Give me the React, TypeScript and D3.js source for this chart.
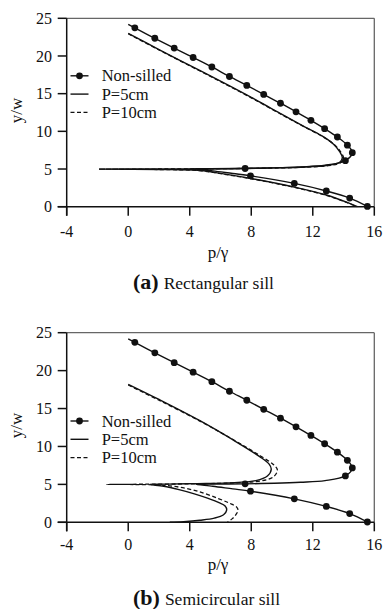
import React from "react";
import * as d3 from "d3";

type Pt = [number, number];

// Axis ticks and legend entries
const xTicks = [-4, 0, 4, 8, 12, 16];
const yTicks = [0, 5, 10, 15, 20, 25];
const legendLabels = ["Non-silled", "P=5cm", "P=10cm"];

// Non-silled pressure profile: measured points (p/γ, y/w)
const nonSilledMarkers: Pt[] = [
  [0.43, 23.73], [1.73, 22.35], [2.99, 21.05], [4.22, 19.8], [5.44, 18.54],
  [6.58, 17.28], [7.71, 16.09], [8.81, 14.9], [9.9, 13.73], [10.91, 12.59],
  [11.88, 11.46], [12.77, 10.36], [13.6, 9.25], [14.25, 8.17], [14.57, 7.17],
  [14.12, 6.11], [7.6, 5.07], [7.95, 4.1], [10.8, 3.09], [12.88, 2.09],
  [14.4, 1.15], [15.55, 0.04],
];

// Non-silled profile line, traced from the top of the nappe round the jet core
const nonSilledCurve: Pt[] = [
  [0, 24.2], [0.43, 23.73], [1.73, 22.35], [2.99, 21.05], [4.22, 19.8],
  [5.44, 18.54], [6.58, 17.28], [7.71, 16.09], [8.81, 14.9], [9.9, 13.73],
  [10.91, 12.59], [11.88, 11.46], [12.77, 10.36], [13.6, 9.25], [14.25, 8.17],
  [14.57, 7.17], [14.12, 6.11], [12.8, 5.5], [11.2, 5.28], [9.5, 5.15],
  [7.6, 5.07], [6.0, 5.03], [4.4, 5.0], [5.5, 4.75], [6.8, 4.4], [7.95, 4.1],
  [10.8, 3.09], [12.88, 2.09], [14.4, 1.15], [15.55, 0.04],
];

// Rectangular sill, P = 5 cm
const rectP5: Pt[] = [
  [0, 23.0], [2, 20.85], [4, 18.75], [6, 16.65], [8, 14.5], [10, 12.25],
  [11.3, 10.8], [12.6, 9.4], [13.35, 8.3], [13.75, 7.3], [13.92, 6.5],
  [13.75, 5.9], [13.0, 5.5], [11.2, 5.24], [9, 5.13], [7, 5.07], [4.5, 5.03],
  [2, 5.0], [-1.9, 4.99], [2, 4.94], [4.66, 4.8], [6.2, 4.35], [7.9, 3.77],
  [10.8, 2.6], [12.88, 1.55], [14.2, 0.6], [14.9, 0],
];

// Rectangular sill, P = 10 cm
const rectP10: Pt[] = [
  [0, 22.95], [2, 20.8], [4, 18.7], [6, 16.6], [8, 14.45], [10, 12.2],
  [11.3, 10.75], [12.6, 9.35], [13.4, 8.25], [13.82, 7.25], [14.0, 6.45],
  [13.8, 5.85], [13.0, 5.45], [11.2, 5.22], [9, 5.12], [7, 5.06], [4.5, 5.02],
  [2, 5.0], [-1.9, 4.99], [2, 4.93], [4.66, 4.78], [6.2, 4.32], [7.9, 3.74],
  [10.8, 2.56], [12.88, 1.5], [14.2, 0.56], [14.85, 0],
];

// Semicircular sill, P = 5 cm
const semiP5: Pt[] = [
  [0, 18.2], [2, 16.2], [4.66, 13.4], [6.82, 10.86], [8.55, 8.66],
  [9.15, 7.7], [9.3, 7.0], [9.05, 6.1], [8.3, 5.5], [6.5, 5.2], [4.5, 5.1],
  [2.5, 5.03], [1.4, 5.0], [2.3, 4.75], [3.3, 4.3], [4.3, 3.75], [5.2, 3.15],
  [5.9, 2.6], [6.3, 2.15], [6.4, 1.6], [6.2, 1.0], [5.6, 0.55], [4.66, 0.27],
  [3.6, 0.08], [2.7, 0],
];

// Semicircular sill, P = 10 cm
const semiP10: Pt[] = [
  [0, 18.1], [2, 16.1], [4.66, 13.35], [6.82, 10.9], [8.6, 8.75],
  [9.45, 7.6], [9.7, 6.9], [9.45, 6.0], [8.6, 5.45], [6.6, 5.18], [4, 5.07],
  [1, 5.02], [-1.4, 5.0], [0.5, 4.98], [2.5, 4.85], [3.8, 4.45], [4.9, 3.85],
  [5.9, 3.1], [6.6, 2.5], [7.05, 2.0], [7.14, 1.6], [7.0, 1.0], [6.75, 0.45],
  [6.45, 0],
];

const FONT = "Liberation Serif, Times New Roman, serif";
const INK = "#111";

type PanelProps = {
  top: number; // pixel y of y/w = 25
  bottom: number; // pixel y of y/w = 0
  p5: Pt[];
  p10: Pt[];
  legendY: number;
  letter: string;
  title: string;
  captionY: number;
  tickLabelY: number;
  axisLabelY: number;
};

const txt = (size: number, weight?: string): React.CSSProperties => ({
  fontFamily: FONT,
  fontSize: size,
  fontWeight: weight ?? "normal",
});

function Panel(props: PanelProps) {
  const { top, bottom, p5, p10, legendY, letter, title, captionY, tickLabelY, axisLabelY } = props;
  const left = 66.7;
  const right = 374.3;
  const x = d3.scaleLinear().domain([-4, 16]).range([left, right]);
  const y = d3.scaleLinear().domain([0, 25]).range([bottom, top]);
  const line = d3
    .line<Pt>()
    .x((d) => x(d[0]))
    .y((d) => y(d[1]))
    .curve(d3.curveCatmullRom.alpha(0.5));

  const tickLen = 9;
  const legX0 = 70.5;
  const legX1 = 88.5;
  const legGap = 18.3;

  return (
    <g>
      {/* frame */}
      <line x1={left} x2={right} y1={top} y2={top} stroke="#666" strokeWidth={1.3} />
      <line x1={right} x2={right} y1={top} y2={bottom} stroke="#666" strokeWidth={1.3} />

      {/* curves */}
      <path d={line(nonSilledCurve) ?? ""} fill="none" stroke={INK} strokeWidth={1.4} />
      <path d={line(p10) ?? ""} fill="none" stroke={INK} strokeWidth={1.3} strokeDasharray="4 2.5" />
      <path d={line(p5) ?? ""} fill="none" stroke={INK} strokeWidth={1.4} />
      {nonSilledMarkers.map((d, i) => (
        <circle key={i} cx={x(d[0])} cy={y(d[1])} r={3.4} fill={INK} />
      ))}

      {/* axes */}
      <line x1={left} x2={left} y1={top} y2={bottom + tickLen} stroke={INK} strokeWidth={1.5} />
      <line x1={left - tickLen} x2={right} y1={bottom} y2={bottom} stroke={INK} strokeWidth={1.5} />
      {xTicks.map((t) => (
        <g key={"x" + t}>
          <line x1={x(t)} x2={x(t)} y1={bottom} y2={bottom + tickLen} stroke={INK} strokeWidth={1.5} />
          <text x={x(t)} y={tickLabelY} textAnchor="middle" style={txt(16)} fill={INK}>
            {t}
          </text>
        </g>
      ))}
      {yTicks.map((t) => (
        <g key={"y" + t}>
          <line x1={left - tickLen} x2={left} y1={y(t)} y2={y(t)} stroke={INK} strokeWidth={1.5} />
          <text x={52} y={y(t) + 5.6} textAnchor="end" style={txt(16)} fill={INK}>
            {t}
          </text>
        </g>
      ))}
      <text
        transform={`translate(22,${(top + bottom) / 2 - 2}) rotate(-90)`}
        textAnchor="middle"
        style={txt(17)}
        fill={INK}
      >
        y/w
      </text>
      <text x={218} y={axisLabelY} textAnchor="middle" style={txt(17)} fill={INK}>
        p/γ
      </text>

      {/* legend */}
      {legendLabels.map((lab, i) => {
        const ly = legendY + i * legGap;
        return (
          <g key={lab}>
            <line
              x1={legX0}
              x2={legX1}
              y1={ly}
              y2={ly}
              stroke={INK}
              strokeWidth={1.4}
              strokeDasharray={i === 2 ? "4 2.5" : undefined}
            />
            {i === 0 && <circle cx={(legX0 + legX1) / 2} cy={ly} r={3.4} fill={INK} />}
            <text x={101.7} y={ly + 5.5} style={txt(16.5)} fill={INK}>
              {lab}
            </text>
          </g>
        );
      })}

      {/* caption */}
      <text x={133} y={captionY} style={txt(17.5)} fill={INK}>
        <tspan style={txt(22, "bold")}>{letter}</tspan>
        <tspan dx={5}>{title}</tspan>
      </text>
    </g>
  );
}

export default function App() {
  return (
    <div style={{ position: "absolute", left: 0, top: 0 }}>
      <svg width={385} height={609} style={{ display: "block", background: "#fff", fontFamily: FONT }}>
        <rect width={385} height={609} fill="#fff" />
        <Panel
          top={18.3}
          bottom={206.7}
          p5={rectP5}
          p10={rectP10}
          legendY={75.8}
          letter="(a)"
          title="Rectangular sill"
          captionY={289}
          tickLabelY={236.5}
          axisLabelY={258}
        />
        <Panel
          top={332.7}
          bottom={522.3}
          p5={semiP5}
          p10={semiP10}
          legendY={421}
          letter="(b)"
          title="Semicircular sill"
          captionY={605}
          tickLabelY={550}
          axisLabelY={570}
        />
      </svg>
    </div>
  );
}
